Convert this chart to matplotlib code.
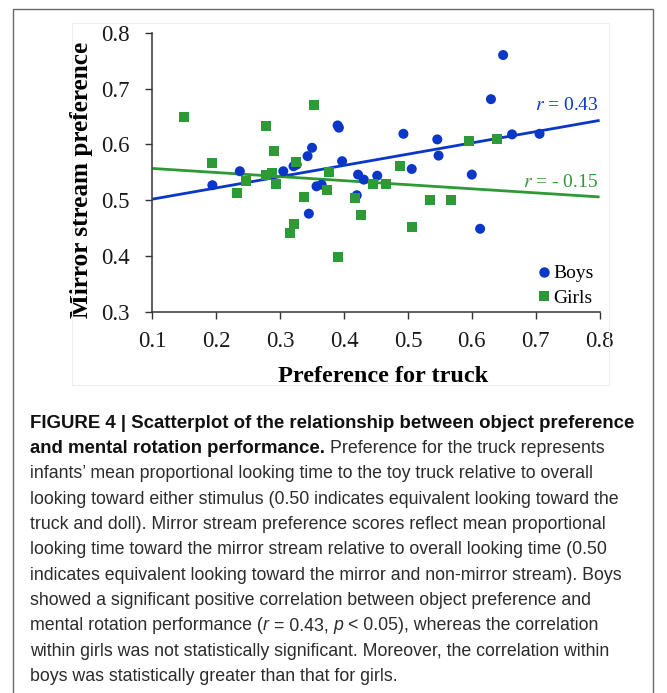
import matplotlib
matplotlib.use("Agg")
import matplotlib.pyplot as plt
from matplotlib.patches import Rectangle
from matplotlib.lines import Line2D
import numpy as np

# ---------------- data ----------------
boys_x = [0.194, 0.237, 0.305, 0.321, 0.326, 0.343, 0.350, 0.345, 0.357, 0.365,
          0.390, 0.392, 0.397, 0.420, 0.422, 0.431, 0.452, 0.493, 0.506, 0.546,
          0.548, 0.600, 0.613, 0.630, 0.649, 0.663, 0.706]
boys_y = [0.527, 0.552, 0.552, 0.561, 0.564, 0.579, 0.594, 0.476, 0.525, 0.528,
          0.634, 0.630, 0.570, 0.509, 0.546, 0.537, 0.544, 0.619, 0.556, 0.609,
          0.580, 0.546, 0.449, 0.681, 0.760, 0.618, 0.619]

girls_x = [0.150, 0.194, 0.232, 0.246, 0.278, 0.278, 0.287, 0.290, 0.293, 0.316,
           0.321, 0.325, 0.338, 0.353, 0.374, 0.377, 0.390, 0.417, 0.427, 0.445,
           0.465, 0.487, 0.507, 0.534, 0.568, 0.596, 0.640]
girls_y = [0.649, 0.566, 0.513, 0.534, 0.633, 0.546, 0.549, 0.588, 0.530, 0.442,
           0.458, 0.568, 0.506, 0.671, 0.518, 0.550, 0.398, 0.504, 0.474, 0.530,
           0.530, 0.561, 0.452, 0.500, 0.500, 0.606, 0.610]

trend_x = [0.1, 0.8]
boys_trend = [0.502, 0.643]
girls_trend = [0.557, 0.506]

x_ticks = [0.1, 0.2, 0.3, 0.4, 0.5, 0.6, 0.7, 0.8]
y_ticks = [0.3, 0.4, 0.5, 0.6, 0.7, 0.8]

boys_label = "Boys"
girls_label = "Girls"
boys_r = "0.43"
girls_r = "- 0.15"
x_label = "Preference for truck"
y_label = "Mirror stream preference"

caption_lines = [
    [("FIGURE 4 | Scatterplot of the relationship between object preference", "bold", "normal")],
    [("and mental rotation performance.", "bold", "normal"),
     (" Preference for the truck represents", "normal", "normal")],
    [("infants\u2019 mean proportional looking time to the toy truck relative to overall", "normal", "normal")],
    [("looking toward either stimulus (0.50 indicates equivalent looking toward the", "normal", "normal")],
    [("truck and doll). Mirror stream preference scores reflect mean proportional", "normal", "normal")],
    [("looking time toward the mirror stream relative to overall looking time (0.50", "normal", "normal")],
    [("indicates equivalent looking toward the mirror and non-mirror stream). Boys", "normal", "normal")],
    [("showed a significant positive correlation between object preference and", "normal", "normal")],
    [("mental rotation performance (", "normal", "normal"), ("r", "normal", "italic"),
     (" = 0.43, ", "normal", "normal"), ("p", "normal", "italic"),
     (" < 0.05), whereas the correlation", "normal", "normal")],
    [("within girls was not statistically significant. Moreover, the correlation within", "normal", "normal")],
    [("boys was statistically greater than that for girls.", "normal", "normal")],
]

# ---------------- styling ----------------
BLUE = "#0a37c8"
GREEN = "#2e9a35"
SERIF = ["Liberation Serif", "DejaVu Serif"]
SANS = ["Liberation Sans", "DejaVu Sans"]

W, H = 667, 693
fig = plt.figure(figsize=(W / 100, H / 100), dpi=100)
fig.patch.set_facecolor("white")

def fx(px):
    return px / W

def fy(py):
    return 1 - py / H

# outer frame
fig.add_artist(Rectangle((fx(13), -0.02), fx(653) - fx(13), fy(9) + 0.02,
                         transform=fig.transFigure, fill=False, ec="#6a6a6a", lw=1.0))
# faint chart-image frame
fig.add_artist(Rectangle((fx(72), fy(385)), fx(609) - fx(72), fy(23) - fy(385),
                         transform=fig.transFigure, fill=False, ec="#eeeeee", lw=0.8))

ax_left, ax_right = 152.3, 599.6
ax_top, ax_bot = 32.7, 312.0
ax = fig.add_axes([fx(ax_left), fy(ax_bot), fx(ax_right) - fx(ax_left), fy(ax_top) - fy(ax_bot)])
ax.set_xlim(0.1, 0.8)
ax.set_ylim(0.3, 0.8)
ax.patch.set_alpha(0)
for s in ["top", "right"]:
    ax.spines[s].set_visible(False)
for s in ["left", "bottom"]:
    ax.spines[s].set_color("#333333")
    ax.spines[s].set_linewidth(1.1)

ax.set_xticks(x_ticks)
ax.set_yticks(y_ticks)
ax.set_xticklabels([f"{v:.1f}" for v in x_ticks])
ax.set_yticklabels([f"{v:.1f}" for v in y_ticks])
ax.tick_params(axis="both", direction="out", length=5, width=1.0, color="#333333",
               labelsize=16.5, labelcolor="#1a1a1a")
ax.tick_params(axis="x", pad=9)
ax.tick_params(axis="y", pad=11)
for lab in ax.get_xticklabels() + ax.get_yticklabels():
    lab.set_family(SERIF)

ax.plot(trend_x, boys_trend, color=BLUE, lw=2.0, zorder=2, solid_capstyle="butt")
ax.plot(trend_x, girls_trend, color=GREEN, lw=2.0, zorder=2, solid_capstyle="butt")
ax.scatter(boys_x, boys_y, s=52, marker="o", color=BLUE, edgecolors="none", zorder=3)
ax.scatter(girls_x, girls_y, s=52, marker="s", color=GREEN, edgecolors="none", zorder=4)

ax.set_xlabel(x_label, family=SERIF, fontsize=17.5, fontweight="bold")
ax.set_ylabel(y_label, family=SERIF, fontsize=18.2, fontweight="bold")
ax.xaxis.set_label_coords(0.515, -0.194)
ax.yaxis.set_label_coords(-0.1326, 0.4726)

# r annotations
ax.text(0.798, 0.662, "$r$ = " + boys_r, color=BLUE, fontsize=14, ha="right", va="baseline",
        family=SERIF, math_fontfamily="stix")
ax.text(0.798, 0.524, "$r$ = " + girls_r, color=GREEN, fontsize=14, ha="right", va="baseline",
        family=SERIF, math_fontfamily="stix")

handles = [Line2D([], [], ls="none", marker="o", color=BLUE, markersize=7.5, markeredgewidth=0),
           Line2D([], [], ls="none", marker="s", color=GREEN, markersize=7, markeredgewidth=0)]
leg = ax.legend(handles, [boys_label, girls_label], loc="lower right",
                bbox_to_anchor=(1.018, -0.030), frameon=False, handlelength=0.6,
                handletextpad=0.2, labelspacing=0.35, borderaxespad=0.3,
                prop={"family": SERIF, "size": 14})

# ---------------- caption ----------------
fig.canvas.draw()
renderer = fig.canvas.get_renderer()

def text_width(s, weight, style, size):
    t = fig.text(0, 0, s, fontsize=size, family=SANS, fontweight=weight, fontstyle=style)
    w = t.get_window_extent(renderer).width
    t.remove()
    return w

# fit caption sizes so the lines span the same widths as in the reference
probe = 14.0
BOLD_SIZE = probe * 606.0 / text_width(caption_lines[0][0][0], "bold", "normal", probe)
NORM_SIZE = probe * 586.0 / text_width(caption_lines[9][0][0], "normal", "normal", probe)
sizes = {"bold": BOLD_SIZE, "normal": NORM_SIZE}

space_w = (text_width("a a", "normal", "normal", NORM_SIZE)
           - text_width("aa", "normal", "normal", NORM_SIZE))

x0 = 30.0
base0 = 427.5
step = 25.35
for i, runs in enumerate(caption_lines):
    x = x0
    y = base0 + i * step
    for s, weight, style in runs:
        lead = len(s) - len(s.lstrip(" "))
        trail = len(s) - len(s.rstrip(" "))
        core = s.strip(" ")
        x += lead * space_w
        color = "#111111" if weight == "bold" else "#2b2b2b"
        t = fig.text(fx(x), fy(y), core, fontsize=sizes[weight], family=SANS, fontweight=weight,
                     fontstyle=style, color=color, va="baseline", ha="left")
        x = t.get_window_extent(renderer).x1 + trail * space_w

fig.savefig("out.png", dpi=100)
